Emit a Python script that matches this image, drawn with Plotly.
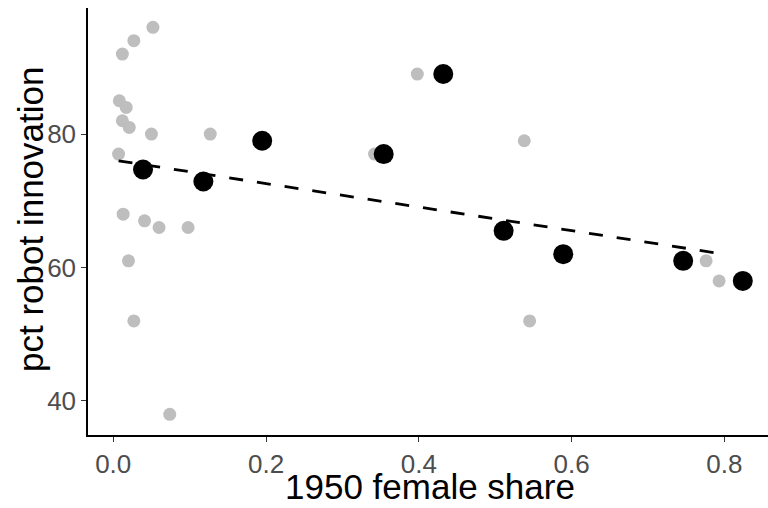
import numpy as np
import plotly.graph_objects as go

# raw observations (grey)
raw_x = [0.052, 0.027, 0.012, 0.008, 0.017, 0.012, 0.021, 0.050, 0.127, 0.007,
         0.013, 0.041, 0.060, 0.098, 0.020, 0.027, 0.074,
         0.398, 0.342, 0.538, 0.545, 0.776, 0.793]
raw_y = [96, 94, 92, 85, 84, 82, 81, 80, 80, 77,
         68, 67, 66, 66, 61, 52, 38,
         89, 77, 79, 52, 61, 58]

# binned means (black)
bin_x = [0.039, 0.118, 0.195, 0.354, 0.432, 0.511, 0.589, 0.746, 0.824]
bin_y = [74.7, 72.9, 79.0, 77.0, 89.0, 65.5, 62.0, 61.0, 58.0]

# linear fit
fit_intercept = 76.12
fit_slope = -17.65

x_ticks = [0.0, 0.2, 0.4, 0.6, 0.8]
x_tick_labels = ["0.0", "0.2", "0.4", "0.6", "0.8"]
y_ticks = [40, 60, 80]
y_tick_labels = ["40", "60", "80"]

x_title = "1950 female share"
y_title = "pct robot innovation"

fit_x = np.array([min(raw_x), max(raw_x)])
fit_y = fit_intercept + fit_slope * fit_x

FONT = "Liberation Sans, Arial, sans-serif"

fig = go.Figure()
fig.add_trace(go.Scatter(x=raw_x, y=raw_y, mode="markers",
                         marker=dict(size=13, color="#BEBEBE", line=dict(width=0)),
                         showlegend=False, hoverinfo="skip"))
fig.add_trace(go.Scatter(x=bin_x, y=bin_y, mode="markers",
                         marker=dict(size=20, color="black", line=dict(width=0)),
                         showlegend=False, hoverinfo="skip"))
fig.add_trace(go.Scatter(x=fit_x, y=fit_y, mode="lines",
                         line=dict(color="black", width=2.8, dash="14px,14px"),
                         showlegend=False, hoverinfo="skip"))

fig.update_layout(
    width=768, height=508,
    margin=dict(l=88, r=0, t=8, b=73),
    paper_bgcolor="white", plot_bgcolor="white",
    font=dict(family=FONT),
    xaxis=dict(range=[-0.033, 0.857], tickvals=x_ticks, ticktext=x_tick_labels,
               showgrid=False, zeroline=False, showline=True, linecolor="black",
               linewidth=1.5, ticks="outside", ticklen=5, tickwidth=1.3,
               tickcolor="#333333", tickfont=dict(size=26, color="#4D4D4D", family=FONT)),
    yaxis=dict(range=[34.9, 98.9], tickvals=y_ticks, ticktext=y_tick_labels,
               showgrid=False, zeroline=False, showline=True, linecolor="black",
               linewidth=1.5, ticks="outside", ticklen=5, tickwidth=1.3,
               tickcolor="#333333", tickfont=dict(size=26, color="#4D4D4D", family=FONT)),
    annotations=[
        dict(text=x_title, xref="paper", yref="paper", x=0.503, y=0,
             xanchor="center", yanchor="bottom", yshift=-73, showarrow=False,
             font=dict(size=35, color="black", family=FONT)),
        dict(text=y_title, xref="paper", yref="paper", x=0, y=0.5035,
             xanchor="center", yanchor="middle", xshift=-58, textangle=-90,
             showarrow=False, font=dict(size=35, color="black", family=FONT)),
    ],
)

fig.write_html("out.html")
